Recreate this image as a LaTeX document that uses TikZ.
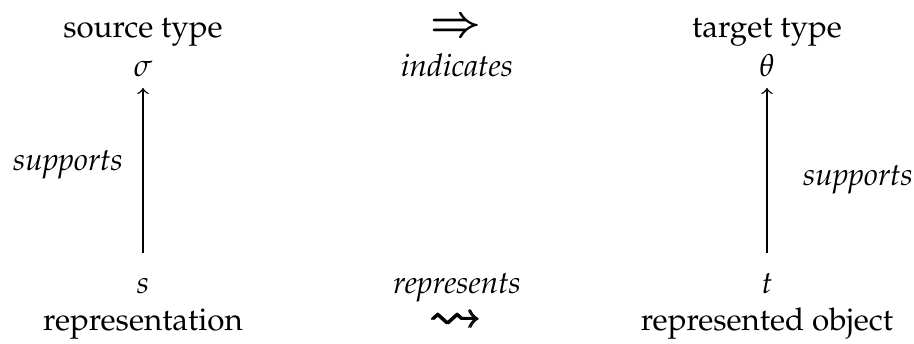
\documentclass[tikz,border=0pt]{standalone}
\usepackage[T1]{fontenc}
\usepackage{amsmath}
\usepackage{amssymb}
\usepackage{mathpazo}
\usepackage{graphicx}
\begin{document}
\begin{tikzpicture}[x=0.319pt,y=-0.319pt,
  lbl/.style={anchor=base,inner sep=0pt,font=\fontsize{10}{12}\selectfont},
  sym/.style={anchor=center,inner sep=0pt,font=\fontsize{10}{12}\selectfont},
  sup/.style={->,line width=0.45pt}]
\useasboundingbox (0,0) rectangle (914,343);
% top row
\node[lbl] (srcT) at (143,37) {source type};
\node[lbl] (sigma) at (143,76) {$\sigma$};
\node[sym] (impl) at (456,27.5) {\scalebox{1.35}{\boldmath$\Rightarrow$}};
\node[lbl] (ind) at (457,76) {\itshape indicates};
\node[lbl] (tgtT) at (767,37) {target type};
\node[lbl] (theta) at (767,76) {$\theta$};
% bottom row
\node[lbl] (s) at (143,293) {$s$};
\node[lbl] (repr) at (143,330) {representation};
\node[lbl] (reps) at (457,293) {\itshape represents};
\node[sym] (lead) at (457,322) {\scalebox{1.6}{$\pmb{\leadsto}$}};
\node[lbl] (t) at (767,293) {$t$};
\node[lbl] (obj) at (767,330) {represented object};
% side labels
\node[lbl] (supL) at (68,170) {\itshape supports};
\node[lbl] (supR) at (858,185) {\itshape supports};
% connectors
\coordinate (sTop) at (143,253);
\coordinate (sigBot) at (143,88);
\coordinate (tTop) at (767,253);
\coordinate (thBot) at (767,88);
\draw[sup] (sTop) -- (sigBot);
\draw[sup] (tTop) -- (thBot);
\end{tikzpicture}
\end{document}
